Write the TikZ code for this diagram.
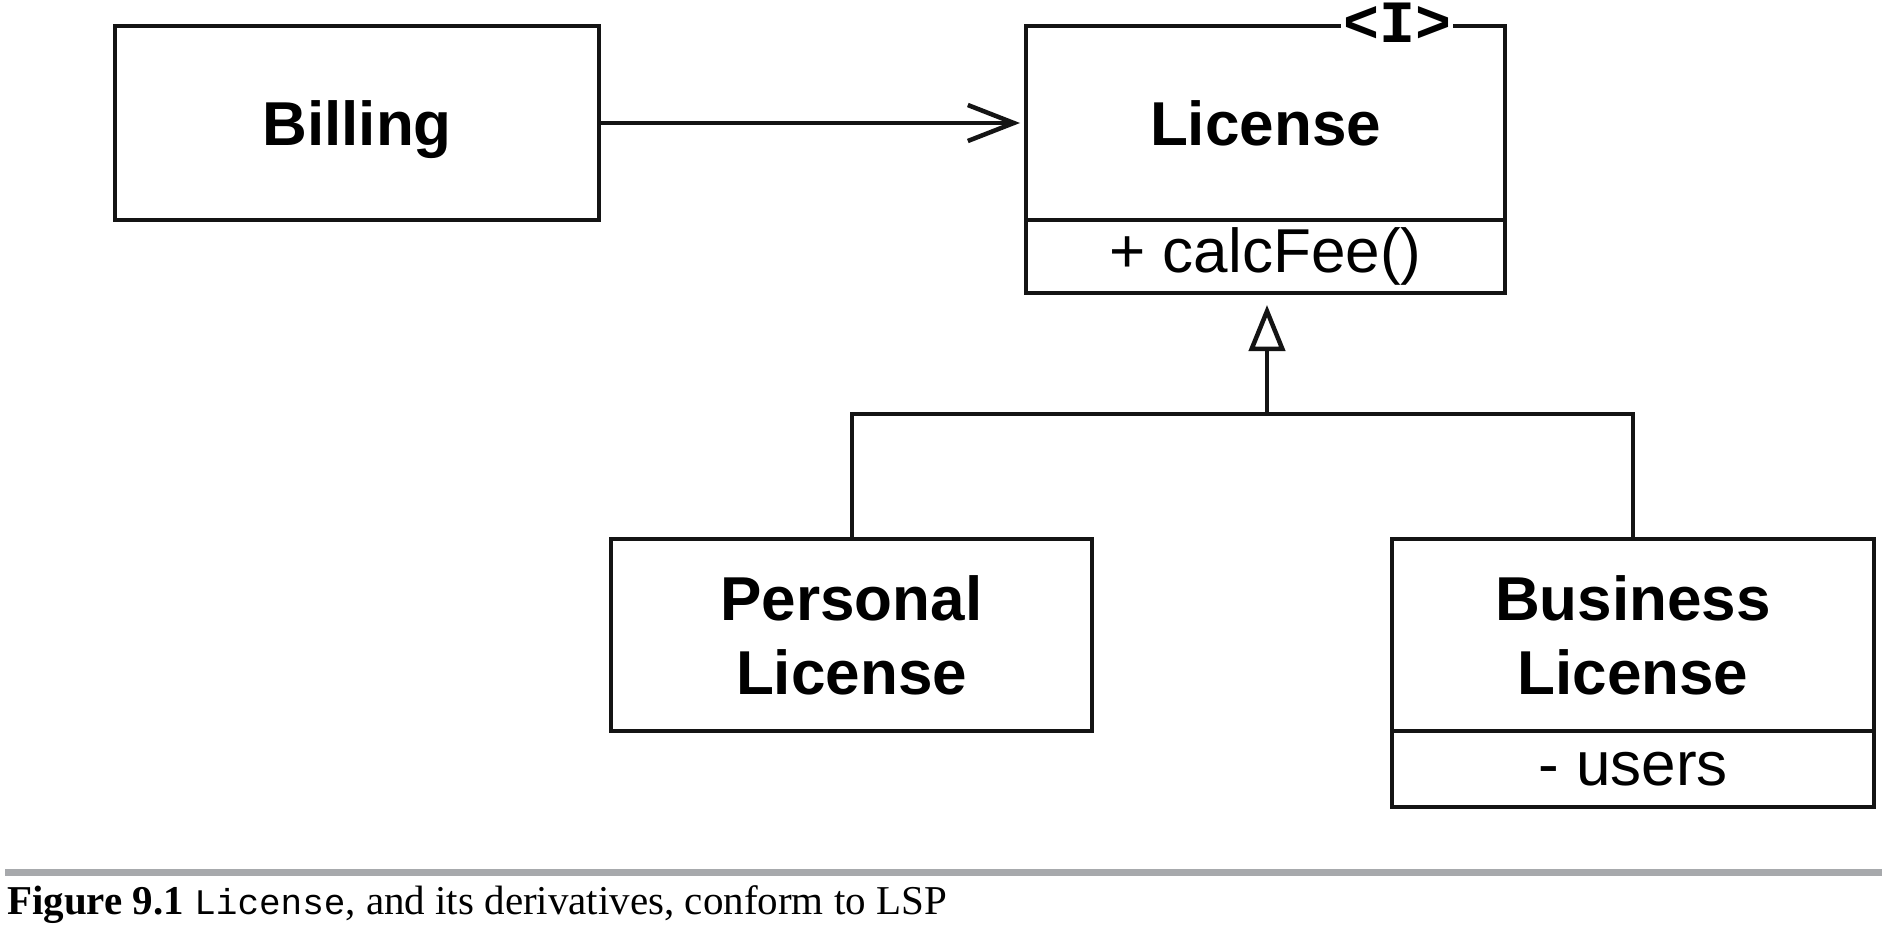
\documentclass[tikz,border=0pt]{standalone}
\usepackage{fontspec}
\usetikzlibrary{arrows.meta}
\newfontfamily\hvfont{Liberation Sans}
\newfontfamily\tmsfont{Liberation Serif}
\newfontfamily\courfont{Liberation Mono}
\definecolor{bargray}{RGB}{167,169,172}
\definecolor{inkblack}{RGB}{20,20,20}
\begin{document}
\begin{tikzpicture}[x=1pt,y=-1pt,
  umlbox/.style={draw=inkblack, line width=4pt, rectangle, inner sep=0pt, minimum width=#1},
  titletext/.style={font=\hvfont\bfseries\fontsize{62}{74}\selectfont, align=center},
  onelinetext/.style={text height=45pt, text depth=0pt},
  membertext/.style={font=\hvfont\fontsize{62}{74}\selectfont},
  conn/.style={draw=inkblack, line width=4pt}
]
\useasboundingbox (0,0) rectangle (1882,932);
\fill[white] (0,0) rectangle (1882,932);

% classes
\node[umlbox=484pt, minimum height=194pt, titletext, onelinetext] (billing) at (357,123) {Billing};
\node[umlbox=479pt, minimum height=194pt, titletext, onelinetext] (license) at (1265.5,123) {License};
\node[umlbox=479pt, minimum height=73pt, membertext] (licfee) at (1265.5,256.5) {+ calcFee()};
\node[fill=white, inner sep=2pt, font=\courfont\bfseries\fontsize{60}{60}\selectfont] (iface) at (1397,23) {<I>};

\node[umlbox=481pt, minimum height=192pt, titletext] (personal) at (851.5,635) {Personal\\License};
\node[umlbox=482pt, minimum height=192pt, titletext] (business) at (1633,635) {Business\\License};
\node[umlbox=482pt, minimum height=76pt, membertext] (busers) at (1633,769) {- users};

% connectors
\draw[conn, -{Straight Barb[length=46pt, width=36pt, line width=4.5pt]}, shorten >=4pt] (billing.east) -- (license.west);
\coordinate (junc) at (1267,414);
\draw[conn] (personal.north) |- (junc) -| (business.north);
\draw[conn, -{Triangle[open, length=46pt, width=36pt, line width=4.5pt, fill=white]}, shorten >=10pt] (junc) -- (junc |- licfee.south);

% caption
\fill[bargray] (5,869) rectangle (1882,876);
\node[anchor=base west, inner sep=0pt, font=\tmsfont\fontsize{41}{41}\selectfont] (caption) at (7,914)
  {\textbf{Figure 9.1} {\courfont\fontsize{36}{41}\selectfont License}, and its derivatives, conform to LSP};
\end{tikzpicture}
\end{document}
